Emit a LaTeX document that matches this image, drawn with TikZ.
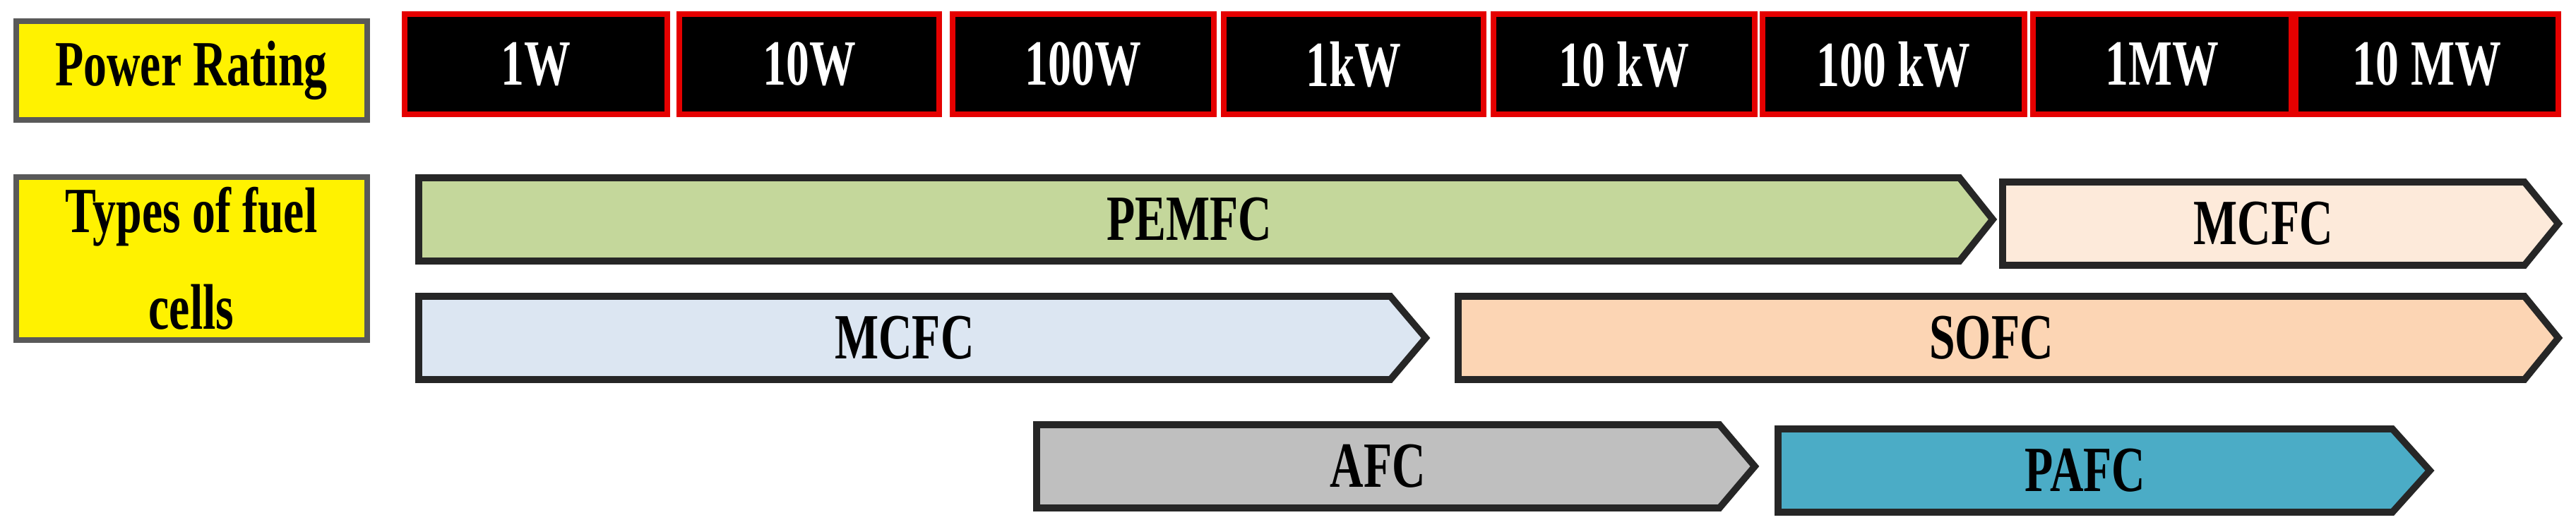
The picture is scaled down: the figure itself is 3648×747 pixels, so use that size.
\documentclass[tikz,border=0pt]{standalone}
\usepackage{fontspec}
\setmainfont{Liberation Serif}
\newfontfamily\cf[FakeStretch=0.72]{Liberation Serif}
\begin{document}
\begin{tikzpicture}[x=0.02cm,y=-0.02cm,
  lab/.style={font=\cf\bfseries\fontsize{52}{78}\selectfont},
  ybox/.style={draw=gray!70!black,line width=5pt,fill=yellow},
  pbox/.style={draw=red!90!black,line width=5pt,fill=black},
  arr/.style={draw=black!85,line width=5.5pt,line join=miter}]
\useasboundingbox (0,0) rectangle (3648,747);
% yellow labels
\draw[ybox] (23,30) rectangle (520,170);
\node[lab,align=center] (pr) at (271,100) {Power Rating};
\draw[ybox] (23,251) rectangle (520,482);
\node[lab,align=center] (tf) at (271,366) {Types of fuel\\cells};
% power boxes
\foreach \a/\b/\t/\n in {573/945/1W/p1,962/1330/10W/p2,1349/1719/100W/p3,1733/2101/1kW/p4,2115/2485/10 kW/p5,2496/2867/100 kW/p6,2879/3245/1MW/p7,3251/3623/10 MW/p8}{
  \draw[pbox] (\a,20) rectangle (\b,162);
  \node[lab,text=white] (\n) at ({(\a+\b)/2},91) {\t};
}
% chevrons
\newcommand\chev[8]{% x1,x2base,xtip,ytop,ybot,fill,name,text
  \draw[arr,fill=#6] (#1,#4) -- (#2,#4) -- (#3,{(#4+#5)/2}) -- (#2,#5) -- (#1,#5) -- cycle;
  \node[lab] (#7) at ({(#1+#2)/2},{(#4+#5)/2}) {#8};}
\definecolor{cpem}{HTML}{C4D79B}
\definecolor{cmc1}{HTML}{FDEADA}
\definecolor{cmc2}{HTML}{DCE6F2}
\definecolor{cso}{HTML}{FCD5B4}
\definecolor{caf}{HTML}{BFBFBF}
\definecolor{cpa}{HTML}{4BACC6}
\chev{593}{2775}{2822}{252}{370}{cpem}{pemfc}{PEMFC}
\chev{2836}{3575}{3623}{258}{376}{cmc1}{mcfc1}{MCFC}
\chev{593}{1969}{2019}{420}{538}{cmc2}{mcfc2}{MCFC}
\chev{2065}{3575}{3623}{420}{538}{cso}{sofc}{SOFC}
\chev{1468}{2435}{2485}{602}{720}{caf}{afc}{AFC}
\chev{2518}{3388}{3441}{608}{726}{cpa}{pafc}{PAFC}
\end{tikzpicture}
\end{document}
